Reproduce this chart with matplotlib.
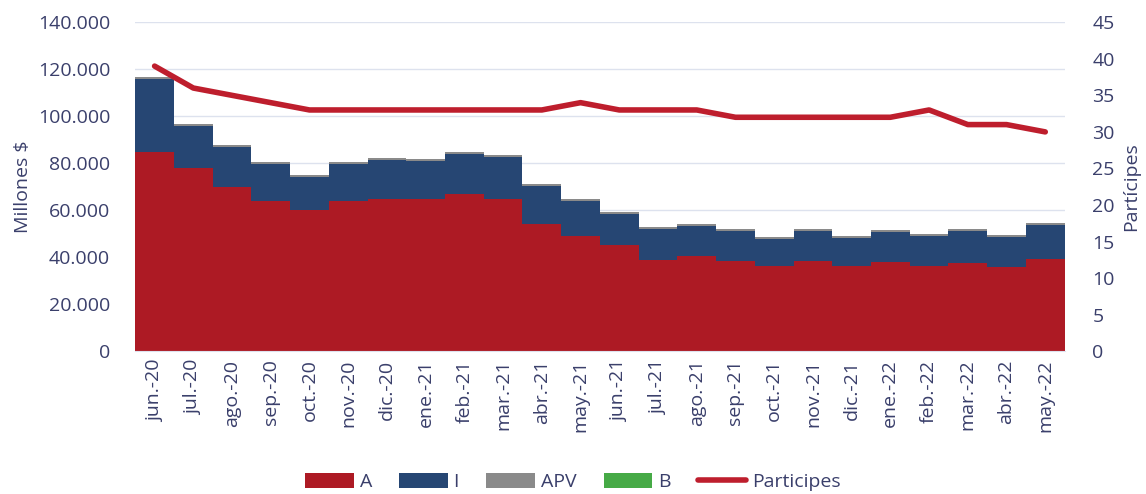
import numpy as np
import matplotlib.pyplot as plt
from matplotlib.ticker import FuncFormatter

meses = ["jun.-20", "jul.-20", "ago.-20", "sep.-20", "oct.-20", "nov.-20", "dic.-20", "ene.-21",
         "feb.-21", "mar.-21", "abr.-21", "may.-21", "jun.-21", "jul.-21", "ago.-21", "sep.-21",
         "oct.-21", "nov.-21", "dic.-21", "ene.-22", "feb.-22", "mar.-22", "abr.-22", "may.-22"]

# millones de $
serie_a = [84700, 77900, 69800, 63800, 60000, 63800, 64700, 64700, 66800, 64700, 54000, 48900,
           45100, 38700, 40400, 38300, 36200, 38300, 36200, 37900, 36200, 37400, 35700, 39100]
serie_i = [31100, 17900, 17100, 15800, 14100, 15800, 16600, 16200, 17100, 17900, 16200, 15000,
           13200, 13400, 12800, 12900, 11600, 12900, 12000, 12900, 12900, 13800, 13000, 14700]
serie_apv = [900, 800, 800, 800, 800, 800, 800, 800, 800, 800, 800, 800,
             800, 700, 800, 700, 700, 700, 700, 700, 700, 700, 700, 700]
serie_b = [100] * 24
participes = [39, 36, 35, 34, 33, 33, 33, 33, 33, 33, 33, 34,
              33, 33, 33, 32, 32, 32, 32, 32, 33, 31, 31, 30]

c_a = "#AD1A24"
c_i = "#264673"
c_apv = "#8A8A8A"
c_b = "#46AA46"
c_line = "#BE1E2D"
c_txt = "#3A3F6B"
fs = 14

plt.rcParams['font.family'] = ['Open Sans', 'DejaVu Sans']

fig = plt.figure(figsize=(11.46, 4.94), dpi=100)
ax = fig.add_axes([0.118, 0.289, 0.811, 0.666])
x = np.arange(len(meses))

a = np.array(serie_a)
i = np.array(serie_i)
apv = np.array(serie_apv)
b = np.array(serie_b)

ax.bar(x, a, width=1.0, color=c_a, linewidth=0, label="A", zorder=2)
ax.bar(x, i, width=1.0, bottom=a, color=c_i, linewidth=0, label="I", zorder=2)
ax.bar(x, apv, width=1.0, bottom=a + i, color=c_apv, linewidth=0, label="APV", zorder=2)
ax.bar(x, b, width=1.0, bottom=a + i + apv, color=c_b, linewidth=0, label="B", zorder=2)

ax.set_xlim(-0.5, len(meses) - 0.5)
ax.set_ylim(0, 140000)
ax.set_yticks(np.arange(0, 140001, 20000))
ax.yaxis.set_major_formatter(FuncFormatter(lambda v, p: f"{int(v):,}".replace(",", ".")))
ax.grid(axis="y", color="#DDE2EE", linewidth=1.0, zorder=0)
ax.set_axisbelow(True)
ax.set_xticks(x)
ax.set_xticklabels(meses, rotation=90)
ax.tick_params(axis="both", length=0, labelsize=fs, colors=c_txt)
ax.tick_params(axis="x", pad=6)
ax.tick_params(axis="y", pad=18)
for s in ["top", "right", "left"]:
    ax.spines[s].set_visible(False)
ax.spines["bottom"].set_color("#DDE2EE")
ax.set_ylabel("Millones $", fontsize=fs, color=c_txt, labelpad=4)

ax2 = ax.twinx()
ax2.plot(x, participes, color=c_line, linewidth=4, solid_capstyle="round", label="Participes", zorder=3)
ax2.set_ylim(0, 45)
ax2.set_yticks(np.arange(0, 46, 5))
ax2.tick_params(axis="y", length=0, labelsize=fs, colors=c_txt, pad=20)
for s in ax2.spines.values():
    s.set_visible(False)
ax2.set_ylabel("Partícipes", fontsize=fs, color=c_txt, labelpad=5)

h1, l1 = ax.get_legend_handles_labels()
h2, l2 = ax2.get_legend_handles_labels()
fig.legend(h1 + h2, l1 + l2, loc="lower center", bbox_to_anchor=(0.5, -0.03), ncol=5,
           frameon=False, fontsize=fs, labelcolor=c_txt, handlelength=2.5, handleheight=0.75,
           handletextpad=0.3, columnspacing=1.4)

fig.savefig("out.png", dpi=100)
